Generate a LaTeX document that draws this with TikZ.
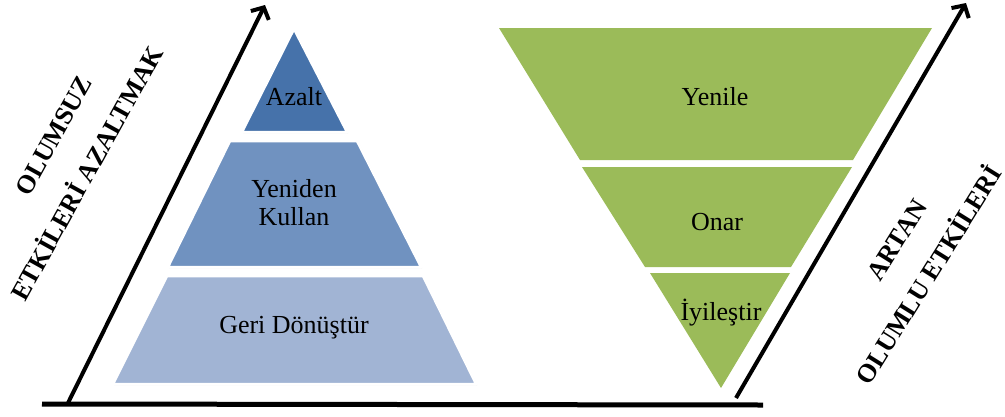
\documentclass[tikz,border=0pt]{standalone}
\usepackage{fontspec}
\setmainfont{Liberation Serif}
\usetikzlibrary{arrows.meta,shadows}
\definecolor{reduceblue}{HTML}{4672AA}
\definecolor{reuseblue}{HTML}{7092C0}
\definecolor{recycleblue}{HTML}{A1B4D4}
\definecolor{leafgreen}{HTML}{9BBB59}
\tikzset{
  level/.style={draw=white,line width=2.5pt,line join=round,
    drop shadow={shadow xshift=1.2pt,shadow yshift=-1.2pt,opacity=0.3}},
  greenlevel/.style={fill=leafgreen},
  risearrow/.style={line width=4pt,-{Straight Barb[length=9pt,width=20pt]}},
  tag/.style={font=\fontsize{26}{28}\selectfont,align=center},
  sidetag/.style={font=\fontsize{26}{28}\selectfont\bfseries,inner sep=1pt}
}

\begin{document}
\begin{tikzpicture}[x=1pt,y=-1pt]
  \useasboundingbox (0,0) rectangle (1005,416);
  % left pyramid
  \filldraw[level,fill=recycleblue] (167,276) -- (423,276) -- (476,384) -- (113,384) -- cycle;
  \filldraw[level,fill=reuseblue] (230,141) -- (357,141) -- (421,267) -- (168,267) -- cycle;
  \filldraw[level,fill=reduceblue] (294,29) -- (347,132) -- (242,132) -- cycle;
  \node[tag] (azalt) at (294,97) {Azalt};
  \node[tag] (kullan) at (294,203) {Yeniden\\Kullan};
  \node[tag] (donustur) at (294,328) {Geri Dönüştür};
  % right funnel
  \fill[greenlevel] (499,28) -- (932,28) -- (853,160) -- (580,160) -- cycle;
  \fill[greenlevel] (582,167) -- (852,167) -- (791,267) -- (645,267) -- cycle;
  \fill[greenlevel] (650,273) -- (790,273) -- (721,388) -- cycle;
  \node[tag] (yenile) at (715,97) {Yenile};
  \node[tag] (onar) at (717,222) {Onar};
  \node[tag] (iyilestir) at (721,313) {İyileştir};
  % axes
  \coordinate (base west) at (42,404);
  \coordinate (base east) at (763,405);
  \coordinate (left foot) at (68,403);
  \coordinate (left tip) at (265,5);
  \coordinate (right foot) at (736,398);
  \coordinate (right tip) at (966,3);
  \draw[line width=5pt] (base west) -- (base east);
  \draw[risearrow] (left foot) -- (left tip);
  \draw[risearrow] (right foot) -- (right tip);
  \node[sidetag,rotate=61] (olumsuz) at (54,136) {OLUMSUZ};
  \node[sidetag,rotate=61] (azaltmak) at (85,172) {ETKİLERİ AZALTMAK};
  \node[sidetag,rotate=58] (artan) at (897,240) {ARTAN};
  \node[sidetag,rotate=58] (olumlu) at (927,274) {OLUMLU ETKİLERİ};
\end{tikzpicture}
\end{document}
